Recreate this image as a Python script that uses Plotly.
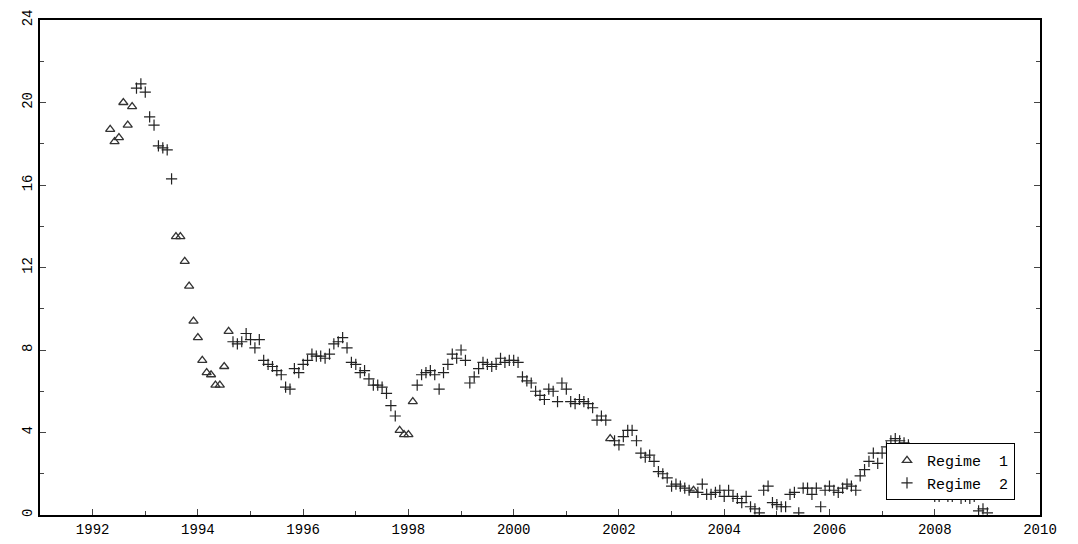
import numpy as np
import pandas as pd
import plotly.graph_objects as go

# monthly observations, starting May 1992
start_year = 1992 + 4 / 12
values = [
    18.7, 18.1, 18.3, 20.0, 18.9, 19.8,
    20.7, 20.9, 20.5, 19.3, 18.9, 17.9, 17.8, 17.7, 16.3,
    13.5, 13.5, 12.3, 11.1, 9.4, 8.6, 7.5, 6.9, 6.8, 6.3, 6.3, 7.2, 8.9,
    8.4, 8.3, 8.4, 8.8, 8.5,
    8.1, 8.5, 7.5, 7.3, 7.2, 7.0, 6.8, 6.2, 6.1, 7.1, 6.9, 7.3, 7.5,
    7.8, 7.7, 7.7, 7.6, 7.8, 8.3, 8.4, 8.6, 8.1, 7.4, 7.3, 6.9, 7.0,
    6.6, 6.3, 6.3, 6.2, 5.9, 5.3, 4.8, 4.1, 3.9, 3.9, 5.5, 6.3,
    6.8, 6.9, 7.0, 6.8, 6.1, 6.9, 7.3, 7.8, 7.6, 8.0, 7.5, 6.4,
    6.7, 7.1, 7.4, 7.3, 7.2, 7.3, 7.6, 7.4, 7.5, 7.5, 7.4, 6.7,
    6.5, 6.4, 6.0, 5.8, 5.6, 6.1, 6.0, 5.5, 6.4, 6.1, 5.5, 5.4,
    5.6, 5.5, 5.4, 5.2, 4.6, 4.8, 4.6, 3.7, 3.6, 3.4, 3.8, 4.1,
    4.1, 3.6, 3.0, 2.8, 2.9, 2.6, 2.1, 2.0, 1.8, 1.4, 1.5, 1.4,
    1.3, 1.2, 1.2, 1.1, 1.5, 1.0, 1.0, 1.1, 1.2, 0.9,
    1.2, 0.9, 0.8, 0.6, 0.9, 0.4, 0.3, 0.1, 1.2, 1.4, 0.6, 0.5,
    0.4, 0.4, 1.0, 1.1, 0.1, 1.3, 1.3, 1.0, 1.3, 0.4, 1.2, 1.4,
    1.2, 1.1, 1.3, 1.5, 1.4, 1.2, 1.9, 2.2, 2.6, 3.0, 2.5, 3.0, 3.3,
    3.6, 3.7, 3.6, 3.5, 3.4, 3.0, 2.6, 2.2, 1.5, 1.0, 0.9, 0.9,
    1.2, 0.9, 0.9, 1.2, 0.8, 0.9, 0.8, 0.9, 0.2, 0.3, 0.1,
]
# months (index) belonging to regime 1
regime1_idx = list(range(0, 6)) + list(range(15, 28)) + [66, 67, 68, 69, 114, 133]

dates = [start_year + i / 12 for i in range(len(values))]
df = pd.DataFrame({"date": dates, "value": values})
df["regime"] = 2
df.loc[regime1_idx, "regime"] = 1
r1 = df[df["regime"] == 1]
r2 = df[df["regime"] == 2]

fig = go.Figure()
fig.add_trace(go.Scatter(
    x=r1["date"], y=r1["value"], mode="markers", name="Regime  1",
    marker=dict(symbol="triangle-up-open", size=8, color="#333", line=dict(width=1.3))
))
fig.add_trace(go.Scatter(
    x=r2["date"], y=r2["value"], mode="markers", name="Regime  2",
    marker=dict(symbol="cross-thin-open", size=8, color="#222", line=dict(width=1.2, color="#222"))
))

# page body adds 8px padding, so the figure is sized a bit smaller
fig.update_layout(
    width=1070, height=536,
    paper_bgcolor="white", plot_bgcolor="white",
    margin=dict(l=32, r=38, t=12, b=29, autoexpand=False),
    font=dict(family="Liberation Mono", size=14, color="black"),
    showlegend=True,
    legend=dict(x=0.975, y=0.03, xanchor="right", yanchor="bottom",
                bordercolor="black", borderwidth=1, bgcolor="white",
                font=dict(family="Liberation Mono", size=15)),
    xaxis=dict(
        range=[1991, 2010], tickvals=list(range(1992, 2011, 2)),
        ticks="inside", ticklen=6, showgrid=False, zeroline=False, automargin=False,
        showline=True, linecolor="black", linewidth=2, mirror=True,
        minor=dict(tickvals=list(range(1993, 2010, 2)), ticks="inside", ticklen=4),
    ),
    yaxis=dict(
        range=[0, 24], tickvals=list(range(0, 25, 4)), tickangle=-90,
        ticks="inside", ticklen=6, showgrid=False, zeroline=False, automargin=False,
        showline=True, linecolor="black", linewidth=2, mirror="allticks",
        minor=dict(tickvals=list(range(2, 24, 4)), ticks="inside", ticklen=4),
    ),
)

fig.write_html("out.html")
